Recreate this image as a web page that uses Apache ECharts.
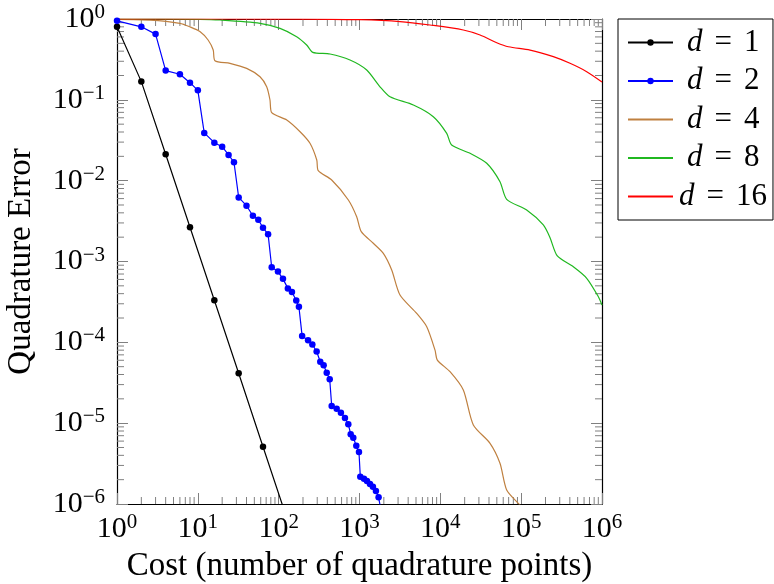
<!DOCTYPE html>
<html>
<head>
<meta charset="utf-8">
<script src="https://cdn.jsdelivr.net/npm/echarts@6/dist/echarts.min.js"></script>
<style>html,body{margin:0;padding:0;background:#fff}#c{width:774px;height:584px}</style>
</head>
<body>
<div id="c"></div>
<script>
// ---- data ----
const d1X = [1, 2, 4, 8, 16, 32, 64, 128];
const d1Y = [0.80, 0.168, 0.0212, 0.00265, 3.31e-4, 4.14e-5, 5.1e-6, 6.4e-7];

const d2X = [1, 2, 3, 4, 6, 8, 10, 12, 16, 20, 24, 28, 32, 40, 48, 56, 64, 74, 82, 98, 113, 130, 146, 165, 178,
  195, 231, 261, 295, 327, 360, 393, 428, 453, 522, 589, 661, 727, 778, 838, 913, 985,
  1023, 1136, 1237, 1349, 1466, 1596, 1722, 1860];
const d2Y = [0.95, 0.80, 0.65, 0.23, 0.207, 0.163, 0.131, 0.039, 0.0295, 0.0263, 0.0208, 0.0169, 0.0062, 0.0049,
  0.00368, 0.00329, 0.00262, 0.00217, 8.5e-4, 7.5e-4, 6.1e-4, 4.65e-4, 4.2e-4, 3.3e-4, 2.76e-4,
  1.2e-4, 1.06e-4, 9.4e-5, 7.7e-5, 5.75e-5, 5.2e-5, 4.2e-5, 3.5e-5, 1.63e-5, 1.51e-5, 1.35e-5, 1.16e-5,
  9.7e-6, 7.3e-6, 6.6e-6, 5.26e-6, 4.4e-6, 2.18e-6, 2.06e-6, 1.92e-6, 1.77e-6, 1.64e-6, 1.45e-6, 1.21e-6, 8.0e-7];

const d4X = [1, 2.56, 6.0, 8.0, 10.6, 13.4, 15.5, 16.3, 25, 40.2, 58.8, 71.1, 78.1, 82, 126, 184, 244, 296, 309,
  453, 728, 923, 1052, 1482, 1972, 2503, 3170, 5100, 6790, 8600, 9180, 13180, 19250, 25600,
  41200, 54700, 66200, 92200, 112000];
const d4Y = [0.99, 0.97, 0.885, 0.80, 0.70, 0.55, 0.413, 0.305, 0.283, 0.245, 0.193, 0.145, 0.0995, 0.0693,
  0.0563, 0.0403, 0.029, 0.018, 0.0133, 0.0102, 0.00577, 0.00358, 0.00234, 0.00168, 0.00126, 7.85e-4,
  3.85e-4, 2.28e-4, 1.56e-4, 8.0e-5, 6.04e-5, 4.33e-5, 2.57e-5, 9.5e-6, 5.63e-6, 3.19e-6, 1.49e-6,
  1.02e-6, 8.5e-7];

const d8X = [1, 10.6, 18.8, 58.8, 104, 167, 222, 264, 432, 763, 1228, 1794, 2385, 4640, 8190, 12000, 13800,
  23300, 37500, 54700, 66200, 117000, 188000, 227000, 280000, 442000, 647000, 901000, 1000000];
const d8Y = [1.0, 0.99, 0.972, 0.885, 0.767, 0.604, 0.477, 0.387, 0.369, 0.311, 0.234, 0.145, 0.109, 0.0863,
  0.0619, 0.0385, 0.0276, 0.0218, 0.0164, 0.0097, 0.00588, 0.00433, 0.00283, 0.00198, 0.00117,
  8.6e-4, 6.2e-4, 3.67e-4, 2.9e-4];

const d16X = [1, 184, 1014, 3170, 7450, 19250, 31000, 49900, 69400, 129000, 250000, 402000, 647000, 1000000];
const d16Y = [1.0, 0.999, 0.98, 0.93, 0.843, 0.731, 0.634, 0.509, 0.454, 0.413, 0.342, 0.283, 0.223, 0.166];

const seriesNames = ['d = 1', 'd = 2', 'd = 4', 'd = 8', 'd = 16'];
const xTitle = 'Cost (number of quadrature points)';
const yTitle = 'Quadrature Error';
const xMin = 1, xMax = 1e6, yMin = 1e-6, yMax = 1;

// ---- styling ----
const FONT = 'Liberation Serif';
const tickColor = '#808080';
const majorLen = 11, minorLen = 7;

function zip(xs, ys) { return xs.map((x, i) => [x, ys[i]]); }

// minor tick positions of the log axes
const xMinor = [];
for (let k = 0; k < 6; k++) for (let m = 2; m <= 9; m++) xMinor.push(m * Math.pow(10, k));
const yMinor = [];
for (let k = -6; k < 0; k++) for (let m = 2; m <= 9; m++) yMinor.push(m * Math.pow(10, k));

function powLabel(v) {
  const e = Math.round(Math.log10(v));
  const s = e < 0 ? '\u2212' + (-e) : String(e);
  return '{b|10}{s|' + s + '}';
}
const labelRich = {
  b: { fontFamily: FONT, fontSize: 30, lineHeight: 34, color: '#000' },
  s: { fontFamily: FONT, fontSize: 21, lineHeight: 21, verticalAlign: 'top', color: '#000' }
};

const chart = echarts.init(document.getElementById('c'), null, { renderer: 'canvas' });

function baseAxis(extra) {
  return Object.assign({
    type: 'log', logBase: 10,
    axisLine: { show: true, onZero: false, lineStyle: { color: '#000', width: 1.2 } },
    axisTick: { show: true, inside: true, length: majorLen, lineStyle: { color: tickColor, width: 1 } },
    splitLine: { show: false },
    minorTick: { show: false }
  }, extra);
}

const seriesDefs = [
  { name: seriesNames[0], data: zip(d1X, d1Y), color: '#000000', symbol: 'circle', smooth: false },
  { name: seriesNames[1], data: zip(d2X, d2Y), color: '#0000ff', symbol: 'circle', smooth: false },
  { name: seriesNames[2], data: zip(d4X, d4Y), color: '#bf8040', symbol: 'none', smooth: 0.25 },
  { name: seriesNames[3], data: zip(d8X, d8Y), color: '#20b820', symbol: 'none', smooth: 0.25 },
  { name: seriesNames[4], data: zip(d16X, d16Y), color: '#ff0000', symbol: 'none', smooth: 0.3 }
];
const lineSeries = seriesDefs.map(s => ({
  type: 'line', name: s.name, data: s.data, xAxisIndex: 0, yAxisIndex: 0,
  symbol: s.symbol, symbolSize: 6.5, showSymbol: s.symbol !== 'none', showAllSymbol: true,
  clip: true, smooth: s.smooth,
  lineStyle: { color: s.color, width: 1.2 },
  itemStyle: { color: s.color },
  emphasis: { disabled: true },
  z: 3
}));

const minorX = {
  type: 'custom', name: '_mx', xAxisIndex: 0, yAxisIndex: 0, silent: true, z: 1,
  data: xMinor.map(v => [v, yMin]),
  encode: { x: 0, y: 1 },
  renderItem: function (params, api) {
    const v = api.value(0);
    const pb = api.coord([v, yMin]);
    const pt = api.coord([v, yMax]);
    const st = { stroke: tickColor, lineWidth: 1 };
    return { type: 'group', children: [
      { type: 'line', shape: { x1: pb[0], y1: pb[1], x2: pb[0], y2: pb[1] - minorLen }, style: st },
      { type: 'line', shape: { x1: pt[0], y1: pt[1], x2: pt[0], y2: pt[1] + minorLen }, style: st }
    ] };
  }
};
const minorY = {
  type: 'custom', name: '_my', xAxisIndex: 0, yAxisIndex: 0, silent: true, z: 1,
  data: yMinor.map(v => [xMin, v]),
  encode: { x: 0, y: 1 },
  renderItem: function (params, api) {
    const v = api.value(1);
    const pl = api.coord([xMin, v]);
    const pr = api.coord([xMax, v]);
    const st = { stroke: tickColor, lineWidth: 1 };
    return { type: 'group', children: [
      { type: 'line', shape: { x1: pl[0], y1: pl[1], x2: pl[0] + minorLen, y2: pl[1] }, style: st },
      { type: 'line', shape: { x1: pr[0], y1: pr[1], x2: pr[0] - minorLen, y2: pr[1] }, style: st }
    ] };
  }
};

const hiddenMarker = { color: 'rgba(0,0,0,0)', borderWidth: 0, opacity: 0 };
const legendData = seriesDefs.map(s => s.symbol === 'none'
  ? { name: s.name, itemStyle: hiddenMarker }
  : { name: s.name });

const option = {
  animation: false,
  backgroundColor: '#fff',
  grid: { left: 117, top: 19, width: 485, height: 485, containLabel: false, outerBoundsMode: 'none' },
  xAxis: [
    baseAxis({
      position: 'bottom', min: xMin, max: xMax, interval: 1,
      axisLabel: { show: true, margin: 8, formatter: powLabel, rich: labelRich },
      name: xTitle, nameLocation: 'middle', nameGap: 46,
      nameTextStyle: { fontFamily: FONT, fontSize: 33, color: '#000', lineHeight: 33 }
    }),
    baseAxis({ position: 'top', min: xMin, max: xMax, interval: 1, axisLabel: { show: false } })
  ],
  yAxis: [
    baseAxis({
      position: 'left', min: yMin, max: yMax, interval: 1,
      axisLabel: { show: true, margin: 12, formatter: powLabel, rich: labelRich },
      name: yTitle, nameLocation: 'middle', nameGap: 79,
      nameTextStyle: { fontFamily: FONT, fontSize: 33, color: '#000', lineHeight: 33 }
    }),
    baseAxis({ position: 'right', min: yMin, max: yMax, interval: 1, axisLabel: { show: false } })
  ],
  legend: {
    data: legendData,
    orient: 'vertical', left: 618, top: 19,
    itemWidth: 45, itemHeight: 8, itemGap: 7.5,
    padding: [8, 6, 8, 9],
    borderColor: '#000', borderWidth: 1, borderRadius: 0,
    backgroundColor: '#fff',
    selectedMode: false,
    formatter: function (name) {
      const n = name.split('=')[1].trim();
      return (n.length > 1 ? '{i2|d}' : '{i|d}') + '{e|=}{n|' + n + '}';
    },
    textStyle: {
      fontFamily: FONT, fontSize: 31, lineHeight: 28, color: '#000',
      rich: {
        i: { fontFamily: FONT, fontSize: 31, fontStyle: 'italic', lineHeight: 28, padding: [0, 0, 0, 9] },
        i2: { fontFamily: FONT, fontSize: 31, fontStyle: 'italic', lineHeight: 28, padding: [0, 0, 0, 1] },
        e: { fontFamily: FONT, fontSize: 31, lineHeight: 28, padding: [0, 12, 0, 12] },
        n: { fontFamily: FONT, fontSize: 31, lineHeight: 28 }
      }
    }
  },
  series: [minorX, minorY].concat(lineSeries)
};
chart.setOption(option);
</script>
</body>
</html>
